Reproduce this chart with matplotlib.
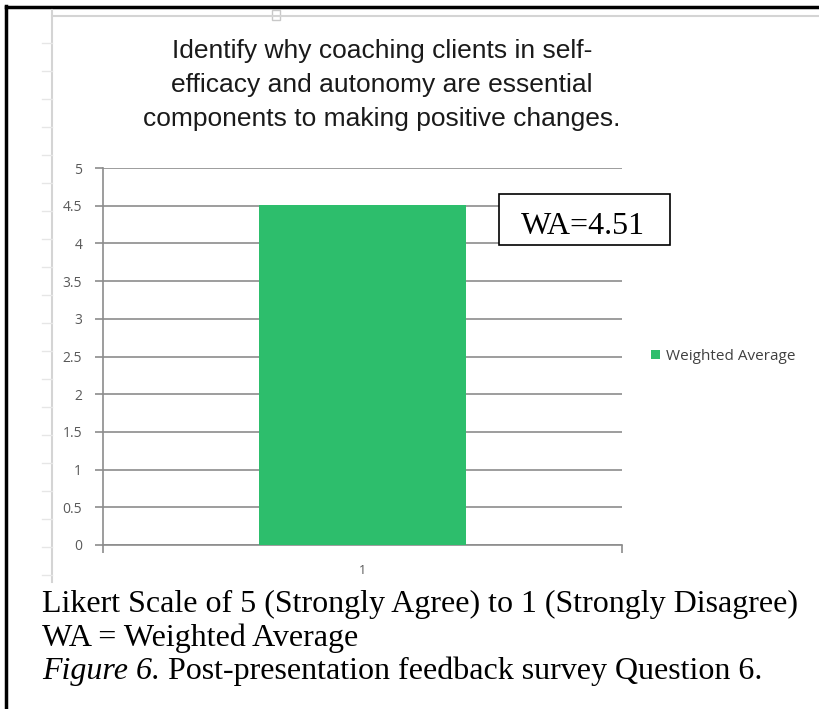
import matplotlib.pyplot as plt
from matplotlib import font_manager
from matplotlib.patches import Rectangle
from matplotlib.lines import Line2D

# data
categories = ["1"]
values = [4.51]
series_name = "Weighted Average"
yticks = [0, 0.5, 1, 1.5, 2, 2.5, 3, 3.5, 4, 4.5, 5]
ytick_labels = ["0", "0.5", "1", "1.5", "2", "2.5", "3", "3.5", "4", "4.5", "5"]
title_lines = ["Identify why coaching clients in self-",
               "efficacy and autonomy are essential",
               "components to making positive changes."]
box_label = "WA=4.51"
caption = ["Likert Scale of 5 (Strongly Agree) to 1 (Strongly Disagree)",
           "WA = Weighted Average"]
fig_label = "Figure 6."
fig_text = " Post-presentation feedback survey Question 6."

W, H = 820, 709
green = "#2dbe6c"
grid = "#8c8c8c"
chrome = "#d4d4d4"

# the chart title is a narrow sans; use it if the system has it
names = {f.name for f in font_manager.fontManager.ttflist}
if "Liberation Sans Narrow" in names:
    title_font, title_size = "Liberation Sans Narrow", 22.5
else:
    title_font, title_size = "Liberation Sans", 19
print(title_font)

fig = plt.figure(figsize=(W / 100, H / 100), dpi=100)


def fx(px):
    return px / W


def fy(py):
    return 1 - py / H


# outer frame (top and left only, the rest is cropped) and spreadsheet chrome
fig.add_artist(Line2D([fx(6), fx(6)], [fy(6), fy(709)], color="black",
                      linewidth=2.5, transform=fig.transFigure))
fig.add_artist(Line2D([fx(6), fx(820)], [fy(7), fy(7)], color="black",
                      linewidth=2.5, transform=fig.transFigure))
fig.add_artist(Line2D([fx(52), fx(52)], [fy(10), fy(582)], color=chrome,
                      linewidth=1.5, transform=fig.transFigure))
fig.add_artist(Line2D([fx(52), fx(820)], [fy(16), fy(16)], color=chrome,
                      linewidth=1.5, transform=fig.transFigure))
for yy in range(43, 582, 28):
    fig.add_artist(Line2D([fx(42), fx(52)], [fy(yy), fy(yy)], color="#e6e6e6",
                          linewidth=1, transform=fig.transFigure))
fig.add_artist(Rectangle((fx(272), fy(20)), 8 / W, 10 / H, facecolor="white",
                         edgecolor="#c8c8c8", linewidth=1, transform=fig.transFigure))

ax = fig.add_axes([fx(103), fy(545), (622 - 103) / W, (545 - 168) / H])
x = list(range(len(categories)))
ax.bar(x, values, width=0.4, color=green, label=series_name, zorder=3)
ax.set_xlim(-0.5, len(categories) - 0.5)
ax.set_ylim(0, 5)
ax.set_yticks(yticks)
ax.set_yticklabels(ytick_labels, family="Open Sans")
ax.set_xticks(x)
ax.set_xticklabels(categories, family="Open Sans")
ax.tick_params(axis="x", length=0, pad=14, labelsize=9, labelcolor="#595959")
ax.tick_params(axis="y", length=6, width=1.2, color=grid, pad=9, labelsize=10,
               labelcolor="#595959")
ax.yaxis.grid(True, color=grid, linewidth=1.2, zorder=0)
for side in ["top", "right"]:
    ax.spines[side].set_visible(False)
ax.spines["left"].set_color(grid)
ax.spines["bottom"].set_color(grid)
ax.spines["left"].set_linewidth(1.2)
ax.spines["bottom"].set_linewidth(1.2)
# category boundary ticks
ax.set_xticks([-0.5, len(categories) - 0.5], minor=True)
ax.tick_params(axis="x", which="minor", length=6, width=1.2, color=grid, direction="out")

leg = ax.legend(loc="center left", bbox_to_anchor=(1.03, 0.5), frameon=False,
                handlelength=0.55, handleheight=0.55, handletextpad=0.4,
                prop={"family": "Open Sans", "size": 11})
for t in leg.get_texts():
    t.set_color("#404040")

# title
for i, line in enumerate(title_lines):
    fig.text(fx(382), fy(58 + 34 * i), line, ha="center", va="baseline",
             fontsize=title_size, family=title_font, color="#1a1a1a")

# WA box
fig.add_artist(Rectangle((fx(499), fy(245)), 171 / W, 51 / H, facecolor="white",
                         edgecolor="black", linewidth=1.2, transform=fig.transFigure,
                         zorder=5))
fig.text(fx(583), fy(234), box_label, ha="center", va="baseline", fontsize=23,
         family="Liberation Serif", zorder=6)

# caption
fig.text(fx(42), fy(612), caption[0], ha="left", va="baseline", fontsize=23,
         family="Liberation Serif")
fig.text(fx(42), fy(646), caption[1], ha="left", va="baseline", fontsize=23,
         family="Liberation Serif")
t1 = fig.text(fx(42), fy(679), fig_label, ha="left", va="baseline", fontsize=23,
              family="Liberation Serif", style="italic")
fig.canvas.draw()
bb = t1.get_window_extent()
fig.text(bb.x1 / W, fy(679), fig_text, ha="left", va="baseline", fontsize=23,
         family="Liberation Serif")

fig.savefig("out.png", dpi=100)
